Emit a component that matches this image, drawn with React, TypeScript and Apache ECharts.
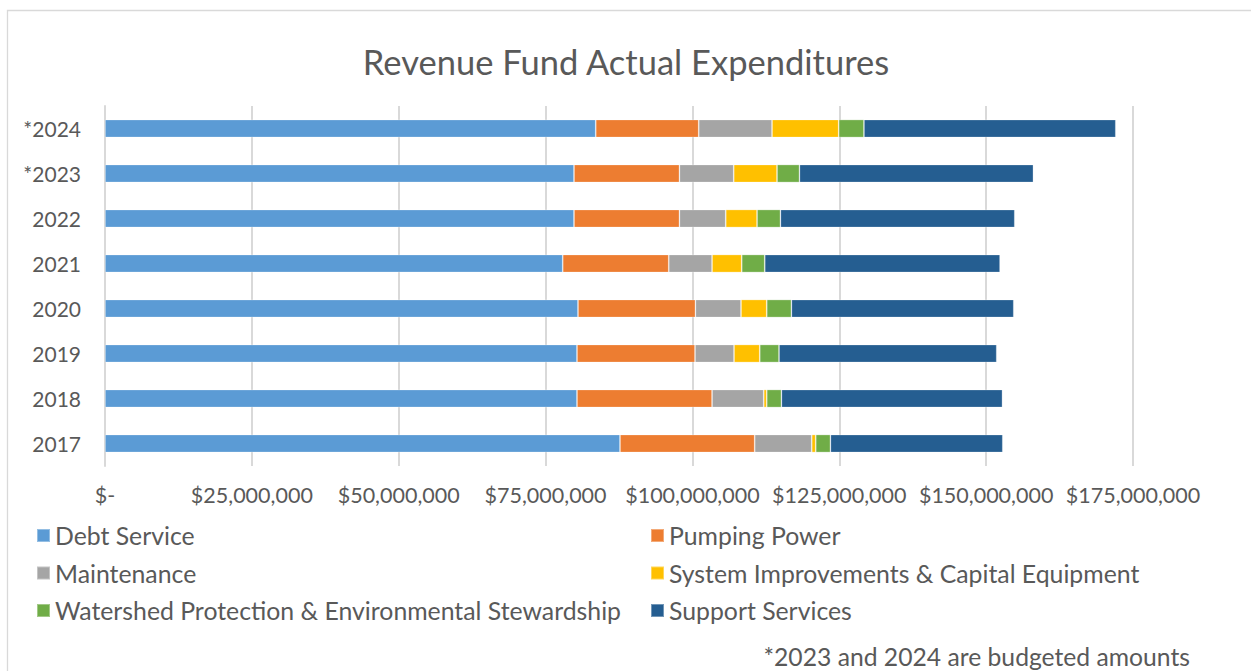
import React, { useEffect, useRef } from "react";
import * as echarts from "echarts";

const categories = ["2017", "2018", "2019", "2020", "2021", "2022", "*2023", "*2024"];
// values in millions of dollars
const debtService = [87.67, 80.35, 80.35, 80.52, 77.92, 79.84, 79.84, 83.54];
const pumpingPower = [22.93, 22.99, 20.09, 19.99, 18.05, 17.95, 17.95, 17.53];
const maintenance = [9.71, 8.8, 6.64, 7.76, 7.37, 7.88, 9.24, 12.48];
const systemImprovements = [0.68, 0.51, 4.38, 4.38, 5.05, 5.33, 7.37, 11.35];
const watershed = [2.5, 2.5, 3.28, 4.2, 3.92, 3.98, 3.82, 4.3];
const supportServices = [29.34, 37.63, 37.06, 37.85, 40.06, 39.89, 39.83, 42.87];

const seriesNames = [
  "Debt Service",
  "Pumping Power",
  "Maintenance",
  "System Improvements & Capital Equipment",
  "Watershed Protection & Environmental Stewardship",
  "Support Services",
];
const seriesValues = [debtService, pumpingPower, maintenance, systemImprovements, watershed, supportServices];
const colors = ["#5B9BD5", "#ED7D31", "#A5A5A5", "#FFC000", "#70AD47", "#255E91"];

const titleText = "Revenue Fund Actual Expenditures";
const footnote = "*2023 and 2024 are budgeted amounts";

const FONT = "Lato, 'Open Sans', sans-serif";
const TEXT = "#595959";

export default function App() {
  const ref = useRef<HTMLDivElement>(null);
  useEffect(() => {
    if (!ref.current) return;
    const chart = echarts.init(ref.current, undefined, { renderer: "svg" });
    const legendText = { color: TEXT, fontSize: 24.8, lineHeight: 25, fontFamily: FONT };
    chart.setOption({
      animation: false,
      backgroundColor: "#ffffff",
      color: colors,
      textStyle: { fontFamily: FONT },
      grid: { left: 105, right: 118, top: 106, bottom: 205, containLabel: false },
      xAxis: {
        type: "value",
        min: 0,
        max: 175,
        interval: 25,
        axisLine: { show: false },
        axisTick: { show: false },
        splitLine: { show: true, lineStyle: { color: "#d9d9d9", width: 2 } },
        axisLabel: {
          color: TEXT,
          fontSize: 21.5,
          fontFamily: FONT,
          margin: 18,
          formatter: (v: number) => (v === 0 ? "$-" : "$" + Math.round(v * 1e6).toLocaleString("en-US")),
        },
      },
      yAxis: {
        type: "category",
        data: categories,
        axisLine: { show: true, lineStyle: { color: "#d9d9d9", width: 2 } },
        axisTick: { show: false },
        axisLabel: { color: TEXT, fontSize: 21, fontFamily: FONT, margin: 24 },
      },
      legend: [
        {
          data: [seriesNames[0], seriesNames[2], seriesNames[4]],
          orient: "vertical",
          left: 36,
          top: 523,
          padding: 0,
          itemWidth: 13,
          itemHeight: 13,
          itemGap: 12.5,
          icon: "rect",
          textStyle: legendText,
        },
        {
          data: [seriesNames[1], seriesNames[3], seriesNames[5]],
          orient: "vertical",
          left: 650,
          top: 523,
          padding: 0,
          itemWidth: 13,
          itemHeight: 13,
          itemGap: 12.5,
          icon: "rect",
          textStyle: legendText,
        },
      ],
      graphic: [
        {
          type: "rect",
          silent: true,
          shape: { x: 7.5, y: 10.5, width: 1250, height: 720 },
          style: { fill: "none", stroke: "#d9d9d9", lineWidth: 1.3 },
        },
        {
          type: "text",
          x: 626,
          y: 61,
          style: {
            text: titleText,
            fill: TEXT,
            fontSize: 34.5,
            fontFamily: FONT,
            textAlign: "center",
            textVerticalAlign: "middle",
          },
        },
        {
          type: "text",
          x: 1190,
          y: 656,
          style: {
            text: footnote,
            fill: TEXT,
            fontSize: 24.7,
            fontFamily: FONT,
            textAlign: "right",
            textVerticalAlign: "middle",
          },
        },
      ],
      series: seriesNames.map((name, i) => ({
        name,
        type: "bar",
        stack: "total",
        barWidth: 18,
        data: seriesValues[i],
        itemStyle: { color: colors[i], borderColor: "rgba(255,255,255,0.35)", borderWidth: 0.8 },
        emphasis: { disabled: true },
      })),
    });
    return () => chart.dispose();
  }, []);
  return <div ref={ref} style={{ position: "fixed", left: 0, top: 0, width: 1251, height: 671 }} />;
}
